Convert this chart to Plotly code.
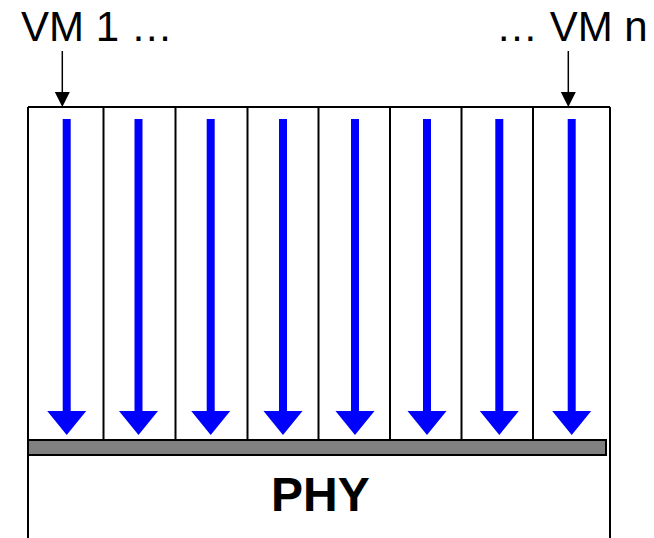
import plotly.graph_objects as go

# ---- diagram content ----
vm_labels = ["VM 1 …", "… VM n"]
phy_label = "PHY"
column_edges = [28, 103.5, 175.5, 247.5, 318.5, 390, 461.5, 533, 610]
arrow_centers = [66.7, 138.5, 210.7, 283, 355, 427, 499.3, 571.7]
vm_pointer_x = [62.3, 568.3]

W, H = 654, 538
TOP, BAR_TOP, BAR_BOT, BAR_RIGHT = 107, 440, 455, 606

shapes = []
line = dict(color="black", width=2)

# top border of the VM rows
shapes.append(dict(type="line", x0=column_edges[0], x1=column_edges[-1], y0=TOP, y1=TOP, line=line))
# outer verticals down to bottom edge
for x in (column_edges[0], column_edges[-1]):
    shapes.append(dict(type="line", x0=x, x1=x, y0=TOP, y1=H + 20, line=line))
# inner column dividers
for x in column_edges[1:-1]:
    shapes.append(dict(type="line", x0=x, x1=x, y0=TOP, y1=BAR_TOP, line=line))

# blue arrows
for cx in arrow_centers:
    sw, hw = 4, 19.5
    y0, yh, yt = 119, 411, 435
    path = (f"M {cx-sw},{y0} L {cx+sw},{y0} L {cx+sw},{yh} L {cx+hw},{yh} "
            f"L {cx},{yt} L {cx-hw},{yh} L {cx-sw},{yh} Z")
    shapes.append(dict(type="path", path=path, fillcolor="#0000FF", line=dict(width=0)))

# gray bar
shapes.append(dict(type="rect", x0=column_edges[0], x1=BAR_RIGHT, y0=BAR_TOP, y1=BAR_BOT,
                   fillcolor="#808080", line=dict(color="black", width=2)))

# small black pointers from labels
for px in vm_pointer_x:
    shapes.append(dict(type="line", x0=px, x1=px, y0=51, y1=93, line=dict(color="black", width=1.5)))
    shapes.append(dict(type="path", path=f"M {px-7.5},92 L {px+7.5},92 L {px},{TOP} Z",
                       fillcolor="black", line=dict(width=0)))

annotations = [
    dict(x=19, y=26, text=vm_labels[0], xanchor="left", yanchor="middle", showarrow=False,
         font=dict(family="Liberation Sans, Arial", size=42, color="black")),
    dict(x=650, y=26, text=vm_labels[1], xanchor="right", yanchor="middle", showarrow=False,
         font=dict(family="Liberation Sans, Arial", size=42, color="black")),
    dict(x=320, y=494, text=f"<b>{phy_label}</b>", xanchor="center", yanchor="middle", showarrow=False,
         font=dict(family="Liberation Sans, Arial", size=48, color="black")),
]

fig = go.Figure()
fig.add_trace(go.Scatter(x=[0, W], y=[0, H], mode="markers", marker=dict(opacity=0),
                         hoverinfo="skip", showlegend=False))
fig.update_layout(
    width=W, height=H, margin=dict(l=0, r=0, t=0, b=0),
    paper_bgcolor="white", plot_bgcolor="white",
    xaxis=dict(range=[0, W], visible=False, fixedrange=True),
    yaxis=dict(range=[H, 0], visible=False, fixedrange=True),
    shapes=shapes, annotations=annotations, showlegend=False,
)
fig.write_html("out.html", config={"displayModeBar": False, "staticPlot": True},
               post_script="document.body.style.margin='0';document.body.style.overflow='hidden';")
